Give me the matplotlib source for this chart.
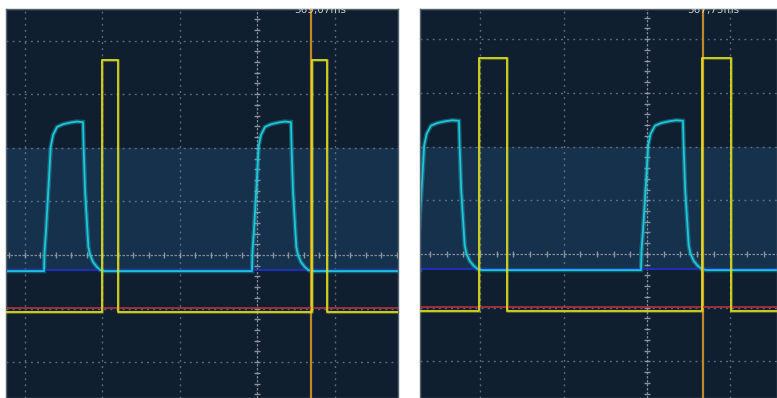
import numpy as np
import matplotlib
matplotlib.use("Agg")
import matplotlib.pyplot as plt

# ---------------- data (units: scope divisions) ----------------
# cyan pulse shape: offset from rising edge (div) and level (div)
cyan_dx = [0.000, 0.006, 0.026, 0.048, 0.065, 0.086, 0.116, 0.168, 0.245, 0.335,
           0.420, 0.503, 0.510, 0.529, 0.555, 0.572, 0.594, 0.632, 0.680, 0.723, 0.787]
cyan_y = [-0.30, 0.06, 0.47, 1.03, 1.46, 2.02, 2.24, 2.39, 2.44, 2.47,
          2.49, 2.48, 2.05, 1.21, 0.56, 0.15, 0.00, -0.13, -0.22, -0.28, -0.30]
cyan_base = -0.30

left_cyan_rises = [-2.748, -0.065]
right_cyan_rises = [-2.755, -0.072]

# yellow pulses: (rise, fall) edges
left_yellow_edges = [(-2.000, -1.794), (0.703, 0.897)]
right_yellow_edges = [(-2.012, -1.677), (0.659, 1.006)]
yellow_low = -1.06
yellow_high = 3.645

blue_level = -0.28
red_level = -0.99
band_range = (-0.30, 2.00)

left_cursor = 0.697
right_cursor = 0.671
left_label = "369,07ms"
right_label = "367,73ms"

# ---------------- style ----------------
BG = "#0f1f30"
BAND = "#16314c"
GRID = "#7d8a96"
CENTER = "#9aa3ab"
CYAN = "#1ec6d8"
YELLOW = "#e0e020"
BLUE = "#1f2fd0"
RED = "#c8303c"
ORANGE = "#c2862a"
EDGE = "#56656f"

W, H = 777, 398
fig = plt.figure(figsize=(W / 100, H / 100), dpi=100)
fig.patch.set_facecolor("white")

panels = [
    dict(rect=(6, 9, 398, 398), xlim=(-3.239, 1.819), ylim=(-2.668, 4.590),
         rises=left_cyan_rises, yedges=left_yellow_edges,
         cursor=left_cursor, label=left_label),
    dict(rect=(420, 9, 777, 398), xlim=(-2.719, 1.557), ylim=(-2.682, 4.562),
         rises=right_cyan_rises, yedges=right_yellow_edges,
         cursor=right_cursor, label=right_label),
]

for p in panels:
    x0, y0, x1, y1 = p["rect"]
    ax = fig.add_axes([x0 / W, 1 - y1 / H, (x1 - x0) / W, (y1 - y0) / H])
    ax.set_facecolor(BG)
    xmin, xmax = p["xlim"]
    ymin, ymax = p["ylim"]
    ax.set_xlim(xmin, xmax)
    ax.set_ylim(ymin, ymax)
    ax.set_xticks([]); ax.set_yticks([])
    for s in ax.spines.values():
        s.set_color(EDGE); s.set_linewidth(1.0)

    # shaded band
    ax.axhspan(band_range[0], band_range[1], color=BAND, zorder=0.5, lw=0)

    # dotted grid
    for gx in range(int(np.ceil(xmin)), int(np.floor(xmax)) + 1):
        if gx != 0:
            ax.axvline(gx, color=GRID, lw=1.0, ls=(0, (1.4, 3.0)), alpha=0.7, zorder=1)
    for gy in range(int(np.ceil(ymin)), int(np.floor(ymax)) + 1):
        if gy != 0:
            ax.axhline(gy, color=GRID, lw=1.0, ls=(0, (1.4, 3.0)), alpha=0.7, zorder=1)

    # centre axes with minor ticks
    ax.axvline(0, color=CENTER, lw=0.9, ls=(0, (2.0, 1.2)), alpha=0.8, zorder=1.2)
    ax.axhline(0, color=CENTER, lw=0.9, ls=(0, (2.0, 1.2)), alpha=0.8, zorder=1.2)
    tx = np.arange(np.ceil(xmin / 0.2) * 0.2, xmax, 0.2)
    ty = np.arange(np.ceil(ymin / 0.2) * 0.2, ymax, 0.2)
    ax.plot(tx, np.zeros_like(tx), ls="none", marker="|", ms=4, mew=1.0,
            color=CENTER, alpha=0.85, zorder=1.3)
    ax.plot(np.zeros_like(ty), ty, ls="none", marker="_", ms=4, mew=1.0,
            color=CENTER, alpha=0.85, zorder=1.3)

    # cyan trace
    cx = [xmin]; cy = [cyan_base]
    for r in p["rises"]:
        cx += [r + d for d in cyan_dx]
        cy += list(cyan_y)
    cx.append(xmax); cy.append(cyan_base)
    ax.plot(cx, cy, color=CYAN, lw=3.2, alpha=0.35, zorder=2, solid_joinstyle="miter")
    ax.axhline(blue_level, color=BLUE, lw=1.2, zorder=2.2)
    ax.plot(cx, cy, color=CYAN, lw=1.3, zorder=2.4)

    # cursor
    ax.axvline(p["cursor"], color=ORANGE, lw=1.6, zorder=2.6)
    ax.text(p["cursor"] + 0.12, (ymax - 0.075), p["label"], ha="center", va="baseline",
            fontsize=7.5, color="#c4ccd4", zorder=5, clip_on=True)

    # yellow trace
    yx = [xmin]; yy = [yellow_low]
    for r, f in p["yedges"]:
        yx += [r, r, f, f]
        yy += [yellow_low, yellow_high, yellow_high, yellow_low]
    yx.append(xmax); yy.append(yellow_low)
    ax.plot(yx, yy, color=YELLOW, lw=2.2, alpha=0.3, zorder=3)
    # red reference line
    ax.axhline(red_level, color=RED, lw=1.1, zorder=3.1)
    ax.plot(yx, yy, color=YELLOW, lw=1.2, zorder=3.2)

fig.savefig("out.png", dpi=100, facecolor=fig.get_facecolor())
